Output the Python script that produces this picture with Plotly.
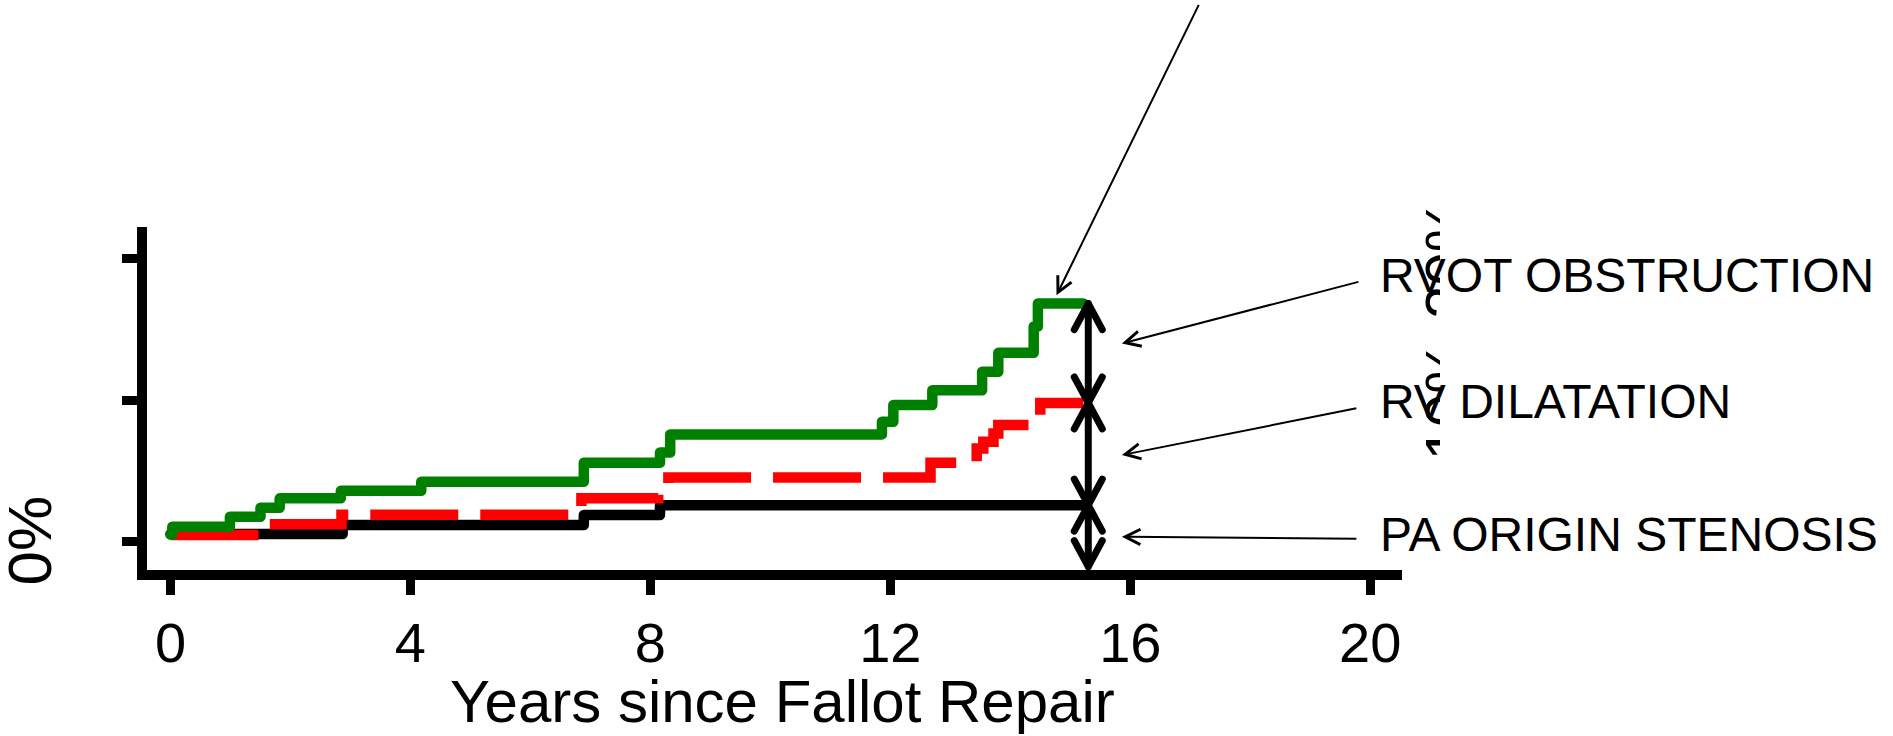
import plotly.graph_objects as go

# ---------------- data ----------------
# cumulative incidence (%) after Fallot repair, step functions
green_t = [0, 0.03, 0.99, 1.50, 1.82, 2.84, 4.18, 6.89, 8.16, 8.33, 11.86, 12.05, 12.70, 13.53, 13.80, 14.39, 14.46, 15.22]
green_v = [0.50, 1.06, 1.76, 2.40, 3.06, 3.60, 4.23, 5.58, 6.30, 7.58, 8.47, 9.65, 10.70, 12.00, 13.34, 15.20, 16.82, 16.82]

red_t = [0, 1.65, 2.85, 6.85, 8.13, 8.30, 12.67, 13.44, 13.55, 13.72, 13.80, 14.50, 15.22]
red_v = [0.47, 1.23, 1.90, 3.06, 3.40, 4.53, 5.58, 6.59, 7.06, 7.65, 8.24, 9.80, 9.80]

black_t = [0, 2.87, 6.89, 8.16, 15.22]
black_v = [0.54, 1.18, 1.88, 2.58, 2.58]

x_ticks = [0, 4, 8, 12, 16, 20]
y_ticks = [0, 10, 20]
labels = ["RVOT OBSTRUCTION", "RV DILATATION", "PA ORIGIN STENOSIS"]
label_tips = [14.0, 6.12, 0.35]      # where the thin label arrows point (%)
arrow_year = 15.3                    # position of the double arrows
arrow_floor = -1.76                  # lower end of the bottom double arrow
pointer_tip = (14.77, 17.4)          # tip of the long pointer arrow from the top

# ---------------- layout geometry ----------------
W, H = 1893, 736
L, R, T, B = 146.5, 1402, 226.7, 570
x_range = [-0.392, 20.53]
y_range = [-2.0, 22.23]
FONT = "Liberation Sans, Arial, sans-serif"

def px(xp):
    return (xp - L) / (R - L)

def py(yp):
    return (B - yp) / (B - T)

ux = (R - L) / (x_range[1] - x_range[0])   # px per year
uy = (B - T) / (y_range[1] - y_range[0])   # px per %

fig = go.Figure()

fig.add_trace(go.Scatter(x=black_t, y=black_v, mode="lines", line=dict(color="black", width=10.5, shape="hv"),
                         showlegend=False, hoverinfo="skip"))
fig.add_trace(go.Scatter(x=red_t, y=red_v, mode="lines", line=dict(color="#ff0000", width=10.5, shape="hv", dash="88px,22px"),
                         showlegend=False, hoverinfo="skip"))
fig.add_trace(go.Scatter(x=green_t, y=green_v, mode="lines", line=dict(color="#008000", width=10.5, shape="hv"),
                         showlegend=False, hoverinfo="skip"))

# double arrows between the curves' final levels
levels = [green_v[-1], red_v[-1], black_v[-1], arrow_floor]
dx = 14.0 / ux
dy = 26.0 / uy
ax_, ay_ = [], []
for top, bot in zip(levels[:-1], levels[1:]):
    xa = arrow_year
    ax_ += [xa, xa, None]
    ay_ += [top, bot, None]
    ax_ += [xa - dx, xa, xa + dx, None]
    ay_ += [top - dy, top, top - dy, None]
    ax_ += [xa - dx, xa, xa + dx, None]
    ay_ += [bot + dy, bot, bot + dy, None]
fig.add_trace(go.Scatter(x=ax_, y=ay_, mode="lines", line=dict(color="black", width=7),
                         showlegend=False, hoverinfo="skip", cliponaxis=False))

annotations = []
# rotated partial tick labels on the right (clipped look)
for v in y_ticks[1:][::-1]:
    annotations.append(dict(x=px(1446.5), y=v, xref="paper", yref="y", text=f"{v}%", textangle=-90,
                            showarrow=False, xanchor="center", yanchor="middle",
                            font=dict(family=FONT, size=60, color="black")))
# white cover hiding most of those labels
annotations.append(dict(x=px(1472), y=py(335), xref="paper", yref="paper", text=" ", showarrow=False,
                        width=64, height=300, bgcolor="white", borderpad=0, borderwidth=0,
                        xanchor="center", yanchor="middle", font=dict(size=10)))

# long pointer from top
annotations.append(dict(x=pointer_tip[0], y=pointer_tip[1], xref="x", yref="y", text="", showarrow=True,
                        ax=143, ay=-292, arrowhead=5, arrowsize=1.5, arrowwidth=2, arrowcolor="black"))

# label pointers and labels
label_y_px = [275, 401.6, 534]
label_tail = [(238, -62), (236, -47), (236, 2)]
for lab, tip, ly, (tx, ty) in zip(labels, label_tips, label_y_px, label_tail):
    annotations.append(dict(x=15.86, y=tip, xref="x", yref="y", text="", showarrow=True,
                            ax=tx, ay=ty, arrowhead=5, arrowsize=1.5, arrowwidth=2, arrowcolor="black"))
    annotations.append(dict(x=px(1378), y=py(ly), xref="paper", yref="paper", text=lab, showarrow=False,
                            xanchor="left", yanchor="middle", font=dict(family=FONT, size=48, color="black")))

# left "0%" label
annotations.append(dict(x=px(28), y=py(541), xref="paper", yref="paper", text="0%", textangle=-90,
                        showarrow=False, xanchor="center", yanchor="middle",
                        font=dict(family=FONT, size=62, color="black")))
# x axis title
annotations.append(dict(x=px(782), y=py(701.5), xref="paper", yref="paper", text="Years since Fallot Repair",
                        showarrow=False, xanchor="center", yanchor="middle",
                        font=dict(family=FONT, size=60, color="black")))

fig.update_layout(
    width=W, height=H,
    margin=dict(l=L, r=W - R, t=T, b=H - B, pad=0),
    paper_bgcolor="white", plot_bgcolor="white",
    showlegend=False,
    annotations=annotations,
    xaxis=dict(range=x_range, tickmode="array", tickvals=x_ticks, ticktext=[str(t) for t in x_ticks],
               showgrid=False, zeroline=False, showline=True, linecolor="black", linewidth=10,
               ticks="outside", ticklen=15, tickwidth=9, tickcolor="black",
               tickfont=dict(family=FONT, size=56, color="black")),
    yaxis=dict(range=y_range, tickmode="array", tickvals=y_ticks, showticklabels=False,
               showgrid=False, zeroline=False, showline=True, linecolor="black", linewidth=10,
               ticks="outside", ticklen=15, tickwidth=9, tickcolor="black"),
)

post = (
    "document.body.style.margin='0';document.body.style.overflow='hidden';"
    "var gd=document.getElementById('{plot_id}');"
    "gd.querySelectorAll('.scatterlayer .trace').forEach(function(t,i){"
    "if(i!==1){t.querySelectorAll('path.js-line').forEach(function(p){"
    "p.style.strokeLinejoin='round';p.style.strokeLinecap='round';});}});"
)
fig.write_html("out.html", config={"displayModeBar": False, "staticPlot": True}, post_script=post)
